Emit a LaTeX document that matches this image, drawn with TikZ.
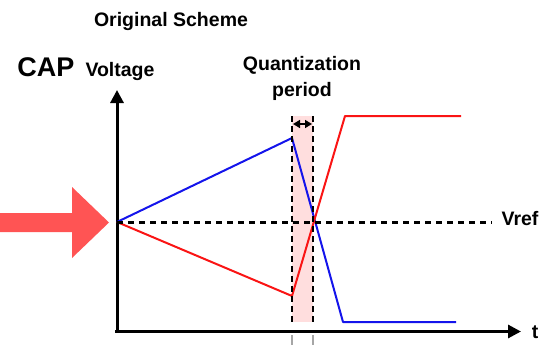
\documentclass[tikz,border=0pt]{standalone}
\usepackage{fontspec}
\setmainfont{Liberation Sans}
\usetikzlibrary{arrows.meta}
\definecolor{capred}{RGB}{255,84,84}
\definecolor{qpink}{RGB}{255,222,222}
\definecolor{lblue}{RGB}{20,20,235}
\definecolor{lred}{RGB}{250,20,20}
\tikzset{
  lbl/.style={font=\fontsize{19.5}{22}\selectfont\bfseries, inner sep=0pt, anchor=base},
  axisline/.style={line width=3pt, -{Triangle[length=13pt,width=13pt]}},
  sig/.style={line width=2pt, line join=round},
  bord/.style={line width=2pt, dash pattern=on 6pt off 4pt},
  refline/.style={line width=3pt, dash pattern=on 6pt off 5pt},
  tick/.style={line width=1.5pt, gray!70},
}
\begin{document}
\begin{tikzpicture}[x=1pt,y=-1pt]
\useasboundingbox (0,0) rectangle (551,345);
% labels
\node[lbl] (title) at (171,27) {Original Scheme};
\node[lbl, font=\fontsize{27}{30}\selectfont\bfseries] (cap) at (46,76) {CAP};
\node[lbl] (volt) at (120,76) {Voltage};
\node[lbl] (quant) at (302,70.5) {Quantization};
\node[lbl] (period) at (302,96) {period};
\node[lbl] (vref) at (520,225) {Vref};
\node[lbl] (t) at (535,338) {t};
% coordinates
\coordinate (o) at (117,222);
\coordinate (ybot) at (117,333);
\coordinate (ytop) at (117,90);
\coordinate (xl) at (115,331.5);
\coordinate (xr) at (521,331.5);
\coordinate (vrefend) at (492,222);
\coordinate (bpeak) at (292,138);
\coordinate (blow) at (343,322);
\coordinate (bend) at (456,322);
\coordinate (rlow) at (292,296);
\coordinate (rhigh) at (345,116);
\coordinate (rend) at (461,116);
\coordinate (qa) at (292,116);
\coordinate (qb) at (313,322);
\coordinate (wl) at (293,124);
\coordinate (wr) at (312,124);
% shaded quantization window
\fill[qpink] (qa) rectangle (qb);
% red input arrow
\fill[capred] (0,213) -- (72,213) -- (72,187) -- (109,222.5) -- (72,258) -- (72,232) -- (0,232) -- cycle;
% axes
\draw[axisline] (ybot) -- (ytop);
\draw[axisline] (xl) -- (xr);
% signals
\draw[sig, lblue] (o) -- (bpeak) -- (blow) -- (bend);
\draw[sig, lred] (o) -- (rlow) -- (rhigh) -- (rend);
% reference line
\draw[refline] (o) -- (vrefend);
% window borders
\draw[bord] (292,116) -- (292,322);
\draw[bord] (313,116) -- (313,322);
\draw[line width=1.5pt, {Triangle[length=7pt,width=8pt]}-{Triangle[length=7pt,width=8pt]}] (wl) -- (wr);
% ticks under axis
\draw[tick] (292,335) -- (292,345);
\draw[tick] (313,335) -- (313,345);
\end{tikzpicture}
\end{document}
